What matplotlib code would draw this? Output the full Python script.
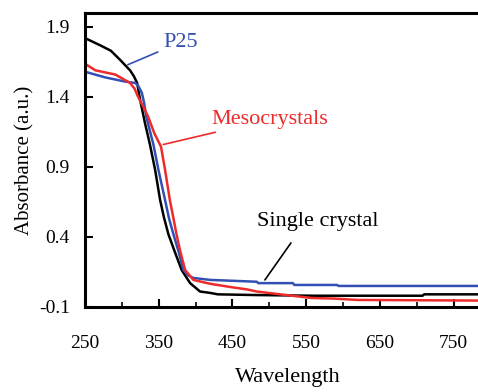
import matplotlib.pyplot as plt
from matplotlib.ticker import MultipleLocator

plt.rcParams['font.family'] = ['Liberation Serif', 'DejaVu Serif']

# data
wl_single = [250, 258, 270, 285, 297.5, 311, 316, 320.6, 324.6, 331.4, 338, 345, 351.8,
             357, 363, 372, 381, 392.5, 406, 420, 430, 480, 560, 708, 710, 800]
abs_single = [1.82, 1.80, 1.77, 1.73, 1.665, 1.59, 1.55, 1.50, 1.38, 1.21, 1.06, 0.88,
              0.664, 0.54, 0.42, 0.29, 0.164, 0.07, 0.01, 0.0, -0.01, -0.015, -0.02,
              -0.02, -0.01, -0.01]

wl_p25 = [250, 277, 304, 318, 322, 327, 330, 333, 342.7, 349.5, 358.5, 364, 369.8, 376.6,
          383.4, 390, 397, 420, 483, 485, 532, 534, 592, 594, 800]
abs_p25 = [1.58, 1.54, 1.51, 1.50, 1.48, 1.43, 1.36, 1.26, 1.06, 0.88, 0.664, 0.53, 0.42,
           0.30, 0.164, 0.125, 0.107, 0.093, 0.08, 0.07, 0.07, 0.057, 0.057, 0.05, 0.05]

wl_meso = [250, 252, 264, 291, 311, 317, 322, 329, 335.5, 344, 353, 358.5, 365, 370,
           374.4, 379, 385.7, 397, 420, 450, 470, 483, 523, 557, 586, 620, 800]
abs_meso = [1.60, 1.63, 1.59, 1.56, 1.50, 1.46, 1.40, 1.33, 1.26, 1.14, 1.045, 0.88,
            0.664, 0.53, 0.41, 0.30, 0.164, 0.093, 0.065, 0.04, 0.025, 0.01, -0.015,
            -0.036, -0.04, -0.05, -0.055]

blue = '#3250b4'
red = '#ee2b2b'

fig = plt.figure(figsize=(4.78, 3.92), dpi=100)
ax = fig.add_axes([0.178, 0.217, 0.848, 0.750])

ax.plot(wl_single, abs_single, color='black', lw=1.8)
ax.plot(wl_p25, abs_p25, color=blue, lw=1.8)
ax.plot(wl_meso, abs_meso, color=red, lw=1.8)

ax.set_xlim(250, 800)
ax.set_ylim(-0.1, 2.0)
ax.set_xticks([250, 350, 450, 550, 650, 750])
ax.xaxis.set_minor_locator(MultipleLocator(50))
ax.set_yticks([-0.1, 0.4, 0.9, 1.4, 1.9])
ax.set_yticklabels(['-0.1', '0.4', '0.9', '1.4', '1.9'])
ax.tick_params(axis='both', which='major', direction='in', length=6, width=1.5, labelsize=14)
ax.tick_params(axis='x', which='major', pad=20)
ax.tick_params(axis='y', which='major', pad=11)
ax.tick_params(axis='x', which='minor', direction='in', length=3.5, width=1.2)
for s in ax.spines.values():
    s.set_linewidth(2.2)

ax.set_xlabel('Wavelength', fontsize=16, labelpad=12)
ax.set_ylabel('Absorbance (a.u.)', fontsize=15, labelpad=3)

# labels with pointer lines
ax.annotate('P25', xy=(308, 1.63), xytext=(356, 1.79), color=blue, fontsize=16,
            va='center', ha='left',
            arrowprops=dict(arrowstyle='-', color=blue, lw=1.2, shrinkA=2, shrinkB=0))
ax.annotate('Mesocrystals', xy=(356, 1.06), xytext=(422, 1.24), color=red, fontsize=16,
            va='center', ha='left',
            arrowprops=dict(arrowstyle='-', color=red, lw=1.2, shrinkA=2, shrinkB=0))
ax.annotate('Single crystal', xy=(494, 0.093), xytext=(483, 0.51), color='black', fontsize=16,
            va='center', ha='left',
            arrowprops=dict(arrowstyle='-', color='black', lw=1.2, shrinkA=8, shrinkB=0,
                            relpos=(0.35, 0.0)))

fig.savefig('out.png', dpi=100)
